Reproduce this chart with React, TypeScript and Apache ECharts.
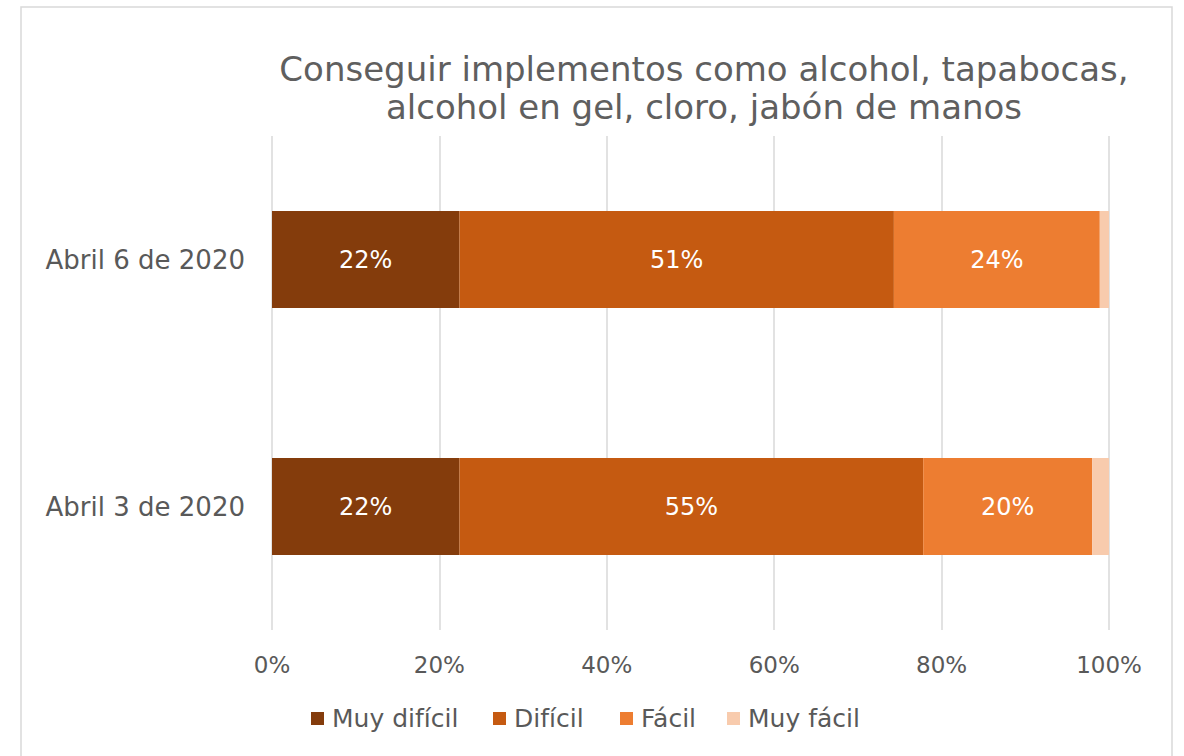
import React, { useEffect, useRef } from "react";
import * as echarts from "echarts";

const categories = ["Abril 3 de 2020", "Abril 6 de 2020"];
const seriesNames = ["Muy difícil", "Difícil", "Fácil", "Muy fácil"];
const muyDificil = [22.4, 22.4];
const dificil = [55.4, 51.9];
const facil = [20.2, 24.6];
const muyFacil = [2.0, 1.1];
const colors = ["#843c0c", "#c55a11", "#ed7d31", "#f8cbad"];
const xTicks = [0, 20, 40, 60, 80, 100];
const legendLefts = [306, 488, 615, 722];

const FONT = "DejaVu Sans";

export default function App() {
  const ref = useRef<HTMLDivElement>(null);
  useEffect(() => {
    const chart = echarts.init(ref.current!, null, { renderer: "svg" });
    const values = [muyDificil, dificil, facil, muyFacil];
    chart.setOption({
      animation: false,
      backgroundColor: "#ffffff",
      textStyle: { fontFamily: FONT },
      graphic: [
        {
          type: "rect",
          shape: { x: 21, y: 7, width: 1151, height: 780 },
          style: { fill: "none", stroke: "#d9d9d9", lineWidth: 1.5 },
          silent: true,
        },
      ],
      title: {
        text: "Conseguir implementos como alcohol, tapabocas,\nalcohol en gel, cloro, jabón de manos",
        left: 699,
        top: 45,
        textAlign: "center",
        textStyle: {
          fontFamily: FONT,
          fontWeight: "normal",
          fontSize: 34,
          color: "#5f5f5f",
          lineHeight: 38,
        },
      },
      legend: seriesNames.map((name, i) => ({
        bottom: 20,
        left: legendLefts[i],
        itemWidth: 13,
        itemHeight: 13,
        icon: "rect",
        data: [name],
        textStyle: { fontFamily: FONT, fontSize: 25, color: "#595959", padding: [0, 0, 0, 3] },
      })),
      grid: { left: 272, right: 75, top: 136, bottom: 126 },
      xAxis: {
        type: "value",
        min: 0,
        max: 100,
        interval: 20,
        axisLine: { show: false },
        axisTick: { show: false },
        splitLine: { lineStyle: { color: "#d9d9d9", width: 1.5 } },
        axisLabel: {
          margin: 23,
          fontFamily: FONT,
          fontSize: 23,
          color: "#595959",
          formatter: (v: number) => (xTicks.includes(v) ? v + "%" : ""),
        },
      },
      yAxis: {
        type: "category",
        data: categories,
        axisLine: { show: false },
        axisTick: { show: false },
        axisLabel: { margin: 27, fontFamily: FONT, fontSize: 26, color: "#595959" },
      },
      series: seriesNames.map((name, i) => ({
        name,
        type: "bar",
        stack: "total",
        barWidth: 97,
        data: values[i],
        itemStyle: { color: colors[i] },
        label: {
          show: i < 3,
          position: "inside",
          color: "#ffffff",
          fontFamily: FONT,
          fontSize: 24,
          formatter: (p: any) => Math.floor(p.value) + "%",
        },
      })),
    });
    return () => chart.dispose();
  }, []);
  return (
    <div
      ref={ref}
      style={{ position: "absolute", left: 0, top: 0, width: 1184, height: 756 }}
    />
  );
}
